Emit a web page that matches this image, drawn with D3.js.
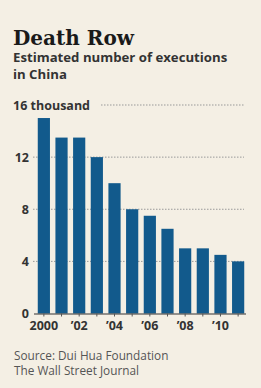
<!DOCTYPE html>
<html><head><meta charset="utf-8">
<script src="https://cdn.jsdelivr.net/npm/d3@7"></script>
<style>
html,body{margin:0;padding:0;background:#f4efe4;}
svg{display:block;}
</style></head>
<body>
<script>
const years = [2000,2001,2002,2003,2004,2005,2006,2007,2008,2009,2010,2011];
const executions = [15,13.5,13.5,12,10,8,7.5,6.5,5,5,4.5,4];
const yTicks = [0,4,8,12,16];
const xTickLabels = {2000:"2000",2002:"\u201902",2004:"\u201904",2006:"\u201906",2008:"\u201908",2010:"\u201910"};

const W=261,H=388;
const svg=d3.select("body").append("svg").attr("width",W).attr("height",H);
svg.append("rect").attr("width",W).attr("height",H).attr("fill","#f4efe4");

const x=d3.scaleBand().domain(years).range([36,246]).paddingInner(0.31).paddingOuter(0.1);
const y=d3.scaleLinear().domain([0,16]).range([313.5,105]);

// title
svg.append("text").attr("x",13).attr("y",45).text("Death Row")
  .attr("font-family","DejaVu Serif").attr("font-weight","bold").attr("font-size",20).attr("fill","#1a1a1a");
svg.append("text").attr("x",13).attr("y",62).text("Estimated number of executions")
  .attr("font-family","Open Sans").attr("font-weight","bold").attr("font-size",13.2).attr("fill","#333");
svg.append("text").attr("x",13).attr("y",79).text("in China")
  .attr("font-family","Open Sans").attr("font-weight","bold").attr("font-size",13.2).attr("fill","#333");

// gridlines
const grid=svg.append("g");
yTicks.filter(d=>d>0).forEach(d=>{
  grid.append("line").attr("x1",d===16?101:33).attr("x2",244).attr("y1",y(d)).attr("y2",y(d))
    .attr("stroke","#999").attr("stroke-width",1).attr("stroke-dasharray","1.5,1.5");
});

// y labels
const yAxis=d3.axisLeft(y).tickValues(yTicks).tickSize(0).tickPadding(0)
  .tickFormat(d=>d===16?"16 thousand":d);
const ya=svg.append("g").attr("transform","translate(29,0)").call(yAxis);
ya.select(".domain").remove();
ya.selectAll("text").attr("font-family","Open Sans").attr("font-weight","bold").attr("font-size",12.5).attr("fill","#333")
  .attr("dy","0.35em");
ya.selectAll(".tick").filter(d=>d===16).select("text").attr("text-anchor","start").attr("x",-16);

// bars
svg.append("g").selectAll("rect").data(years).join("rect")
  .attr("x",d=>x(d)).attr("width",x.bandwidth())
  .attr("y",(d,i)=>y(executions[i])).attr("height",(d,i)=>y(0)-y(executions[i]))
  .attr("fill","#125a8c");

// x axis
const xAxis=d3.axisBottom(x).tickSize(3).tickPadding(5).tickFormat(d=>xTickLabels[d]||"");
const xa=svg.append("g").attr("transform",`translate(0,${y(0)})`).call(xAxis);
xa.select(".domain").attr("d",`M34,0.5H246`).attr("stroke","#333").attr("stroke-width",1.2);
xa.selectAll(".tick line").attr("stroke","#555");
xa.selectAll("text").attr("font-family","Open Sans").attr("font-weight","bold").attr("font-size",12.5).attr("fill","#333");

// source
svg.append("text").attr("x",14).attr("y",359.5).text("Source: Dui Hua Foundation")
  .attr("font-family","Open Sans").attr("font-size",11.8).attr("fill","#555");
svg.append("text").attr("x",14).attr("y",375).text("The Wall Street Journal")
  .attr("font-family","Open Sans").attr("font-size",11.8).attr("fill","#555");
</script>
</body></html>
